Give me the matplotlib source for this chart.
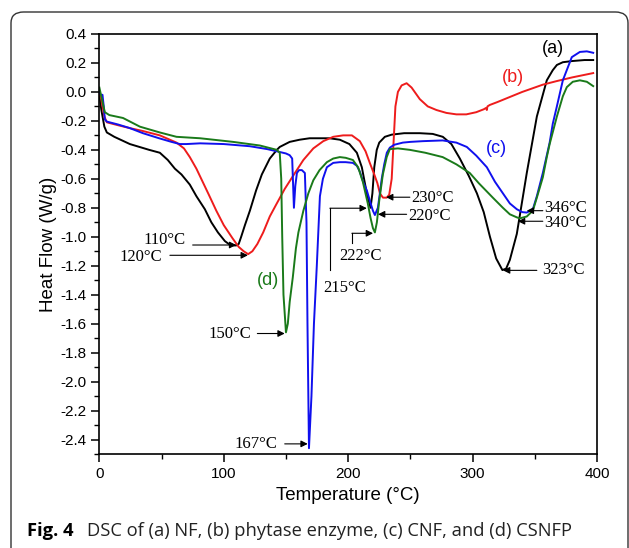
import matplotlib
matplotlib.use("Agg")
import matplotlib.pyplot as plt
from matplotlib.patches import FancyBboxPatch
from matplotlib.ticker import MultipleLocator, FuncFormatter

plt.rcParams['axes.unicode_minus'] = False

# (a) NF
t_a = [0, 1.5, 4, 6, 12, 24.5, 40, 48.6, 55, 60.7, 66, 72.7, 78, 84.8, 90, 95.3, 100.9, 104, 108, 110,
       112, 114, 117, 121, 126, 130.6, 137, 142.7, 145, 153, 161, 169, 177, 185, 193.3, 201, 207, 211,
       215, 218, 219.5, 221, 223, 225, 229.5, 235, 245, 257.6, 268, 276.1, 283, 289.8, 297, 303.5, 309,
       314, 319, 324, 327, 330, 335.6, 343.6, 351.7, 356.5, 359.7, 364.5, 367.8, 372.6, 380, 390, 397]
hf_a = [-0.02, -0.12, -0.24, -0.28, -0.31, -0.36, -0.40, -0.42, -0.47, -0.53, -0.57, -0.64, -0.72, -0.81,
        -0.90, -0.97, -1.03, -1.05, -1.06, -1.06, -1.05, -1.0, -0.92, -0.82, -0.68, -0.57, -0.46, -0.40,
        -0.38, -0.345, -0.33, -0.32, -0.32, -0.32, -0.33, -0.36, -0.42, -0.52, -0.70, -0.80, -0.70, -0.52,
        -0.40, -0.35, -0.31, -0.295, -0.285, -0.285, -0.29, -0.31, -0.36, -0.46, -0.58, -0.70, -0.83,
        -1.0, -1.15, -1.23, -1.22, -1.16, -0.98, -0.56, -0.17, -0.02, 0.08, 0.15, 0.186, 0.205, 0.213,
        0.22, 0.22]

# (b) phytase enzyme
t_b = [0, 1.5, 4, 6, 15, 24.5, 35, 48.6, 62, 68, 72.7, 78, 83, 88, 94, 100, 107, 112, 116, 119.6, 123,
       127, 131.7, 137, 142, 149, 155.7, 164, 172, 180, 188, 196, 203, 209.4, 214, 217.4, 221, 223.5,
       225.5, 228, 231, 233, 235, 236.5, 238, 240, 243, 247, 251, 257.6, 264, 271, 279, 287, 295, 303,
       309, 311, 311.5, 312, 313.9, 320, 330, 340, 356.5, 367.8, 380, 397]
hf_b = [0.0, -0.05, -0.17, -0.21, -0.23, -0.25, -0.27, -0.30, -0.35, -0.39, -0.45, -0.53, -0.62, -0.71,
        -0.82, -0.92, -1.01, -1.07, -1.10, -1.12, -1.10, -1.05, -0.97, -0.86, -0.78, -0.67, -0.58, -0.47,
        -0.39, -0.34, -0.31, -0.30, -0.30, -0.34, -0.41, -0.49, -0.57, -0.63, -0.70, -0.73, -0.73, -0.71,
        -0.60, -0.35, -0.10, 0.0, 0.045, 0.06, 0.03, -0.05, -0.10, -0.125, -0.145, -0.155, -0.155, -0.14,
        -0.12, -0.11, -0.125, -0.10, -0.09, -0.07, -0.035, 0.0, 0.05, 0.075, 0.10, 0.13]

# (c) CNF
t_c = [0, 1, 2.5, 3.5, 4.4, 6, 15, 24.5, 35, 48, 58, 64.7, 70, 81, 100, 121, 135, 142.6, 150, 153, 155,
       156.4, 157.5, 158.8, 160.5, 162.8, 165.2, 166.5, 167.3, 168.5, 170.5, 172.5, 174.8, 177.3, 179.7,
       182.9, 188, 193.3, 198, 203.8, 207, 209.4, 212, 215, 217.4, 219.9, 221.5, 223.9, 225.5, 227, 229,
       231.1, 233.5, 237, 244, 250, 260, 276, 287, 295.4, 303, 311.5, 318, 324.4, 330, 335.6, 340, 343.6,
       348.5, 351.7, 356.5, 362, 364.5, 367.8, 372.6, 379.8, 386.3, 391.9, 397]
hf_c = [0.0, -0.02, -0.02, -0.10, -0.19, -0.205, -0.225, -0.25, -0.285, -0.32, -0.345, -0.36, -0.36,
        -0.355, -0.36, -0.375, -0.395, -0.41, -0.425, -0.437, -0.46, -0.80, -0.65, -0.56, -0.54, -0.54,
        -0.56, -0.90, -1.6, -2.46, -2.1, -1.6, -1.2, -0.72, -0.60, -0.52, -0.49, -0.485, -0.485, -0.49,
        -0.51, -0.55, -0.62, -0.68, -0.75, -0.82, -0.85, -0.80, -0.70, -0.60, -0.50, -0.42, -0.385, -0.365,
        -0.35, -0.345, -0.34, -0.335, -0.35, -0.38, -0.44, -0.52, -0.62, -0.70, -0.77, -0.81, -0.83, -0.833,
        -0.81, -0.72, -0.56, -0.35, -0.22, -0.10, 0.08, 0.24, 0.276, 0.28, 0.27]

# (d) CSNFP
t_d = [0, 2, 4.4, 8, 19, 32.6, 48.6, 62, 81, 107.5, 129, 142.6, 145, 146.2, 147, 148, 150, 151.5, 153,
       155.5, 158, 160, 164, 168, 172, 177, 182.9, 188, 193.3, 198, 203.8, 208, 211.8, 215.8, 218, 219.9,
       221.5, 223.1, 225, 227.9, 231, 233.5, 240, 249.6, 262, 276, 287, 297.8, 305, 316.3, 324.4, 330,
       335.6, 338, 343.6, 348.5, 351.7, 356.5, 359.7, 362, 367.8, 372.6, 375.8, 380.6, 386.3, 391.9, 397]
hf_d = [0.03, -0.05, -0.14, -0.16, -0.18, -0.24, -0.28, -0.31, -0.32, -0.345, -0.37, -0.40, -0.42, -0.6,
        -1.0, -1.4, -1.66, -1.6, -1.45, -1.28, -1.08, -0.97, -0.82, -0.70, -0.61, -0.54, -0.485, -0.46,
        -0.45, -0.455, -0.47, -0.52, -0.62, -0.77, -0.87, -0.94, -0.97, -0.90, -0.75, -0.57, -0.45, -0.395,
        -0.39, -0.40, -0.42, -0.45, -0.50, -0.56, -0.63, -0.73, -0.80, -0.845, -0.866, -0.873, -0.86, -0.82,
        -0.73, -0.59, -0.45, -0.36, -0.17, -0.03, 0.033, 0.07, 0.08, 0.07, 0.04]

series = [(t_a, hf_a, 'black'), (t_b, hf_b, '#ee1c1c'), (t_c, hf_c, '#1010ee'), (t_d, hf_d, '#1a7a1a')]

# curve labels: text, x, y, colour
curve_labels = [('(a)', 364.6, 0.30, 'black'), ('(b)', 332.5, 0.10, '#ee1c1c'),
                ('(c)', 319.6, -0.39, '#1010ee'), ('(d)', 135.6, -1.30, '#1a7a1a')]

# peak annotations: text, text x, text y, arrow tail x, arrow head x, arrow y, ha
peaks = [('110°C', 52.6, -1.02, 75, 110, -1.057, 'center'),
         ('120°C', 33.4, -1.14, 56.7, 119.4, -1.128, 'center'),
         ('150°C', 105, -1.67, 127, 149, -1.668, 'center'),
         ('167°C', 126, -2.43, 149, 167.5, -2.43, 'center'),
         ('230°C', 251, -0.73, 249.6, 230.5, -0.727, 'left'),
         ('220°C', 248, -0.86, 247, 224, -0.845, 'left'),
         ('346°C', 358, -0.80, 356.5, 343.6, -0.82, 'left'),
         ('340°C', 358, -0.905, 356.5, 336.5, -0.893, 'left'),
         ('323°C', 355.7, -1.232, 351.7, 324.5, -1.232, 'left')]

# elbow annotations: text, text x, text y, corner x, line bottom y, arrow head x, arrow y
elbows = [('215°C', 197, -1.355, 185.3, -1.232, 215, -0.803),
          ('222°C', 209.8, -1.13, 203, -1.045, 220, -0.976)]

fig = plt.figure(figsize=(6.29, 5.48), dpi=100)
ax = fig.add_axes([0.158, 0.1715, 0.791, 0.7665])

for t, hf, c in series:
    ax.plot(t, hf, color=c, lw=1.4)

for txt, x, y, c in curve_labels:
    ax.text(x, y, txt, color=c, fontsize=13, ha='center', va='center', family='Liberation Sans')

arrow_kw = dict(arrowstyle='-|>', color='black', lw=0.8, mutation_scale=10, shrinkA=0, shrinkB=0)
for txt, tx, ty, x0, x1, ay, ha in peaks:
    ax.annotate('', xy=(x1, ay), xytext=(x0, ay), arrowprops=arrow_kw)
    ax.text(tx, ty, txt, fontsize=12, ha=ha, va='center', family='Liberation Serif')

for txt, tx, ty, cx, by, hx, ay in elbows:
    ax.plot([cx, cx], [by, ay], color='black', lw=0.8)
    ax.annotate('', xy=(hx, ay), xytext=(cx, ay), arrowprops=arrow_kw)
    ax.text(tx, ty, txt, fontsize=12, ha='center', va='center', family='Liberation Serif')

ax.set_xlim(0, 400)
ax.set_ylim(-2.5, 0.4)
ax.xaxis.set_major_locator(MultipleLocator(100))
ax.xaxis.set_minor_locator(MultipleLocator(50))
ax.yaxis.set_major_locator(MultipleLocator(0.2))
ax.yaxis.set_minor_locator(MultipleLocator(0.1))
ax.yaxis.set_major_formatter(FuncFormatter(lambda v, p: '%.1f' % (0.0 if abs(v) < 1e-9 else v)))
ax.tick_params(which='major', direction='out', length=6, width=1.1, labelsize=11)
ax.tick_params(which='minor', direction='out', length=3.5, width=1.0)
for lab in ax.get_xticklabels() + ax.get_yticklabels():
    lab.set_family('Liberation Sans')
for s in ax.spines.values():
    s.set_linewidth(1.2)

ax.set_xlabel('Temperature (°C)', fontsize=13.5, family='Liberation Sans', labelpad=4)
ax.set_ylabel('Heat Flow (W/g)', fontsize=13.5, family='Liberation Sans', labelpad=2)

# rounded frame around figure and caption
frame = FancyBboxPatch((11 / 629, -0.05), 617 / 629, 1.05 - 12 / 548,
                       boxstyle='round,pad=0,rounding_size=0.02', transform=fig.transFigure,
                       fill=False, edgecolor='#333333', lw=1.0, clip_on=False)
fig.patches.append(frame)

fig.text(27 / 629, 1 - 531 / 548, 'Fig. 4', fontsize=13.2, fontweight='bold', family='Open Sans', va='center')
fig.text(87 / 629, 1 - 531 / 548, 'DSC of (a) NF, (b) phytase enzyme, (c) CNF, and (d) CSNFP',
         fontsize=13.2, family='Open Sans', va='center', color='#222222')

fig.savefig('out.png', dpi=100)
